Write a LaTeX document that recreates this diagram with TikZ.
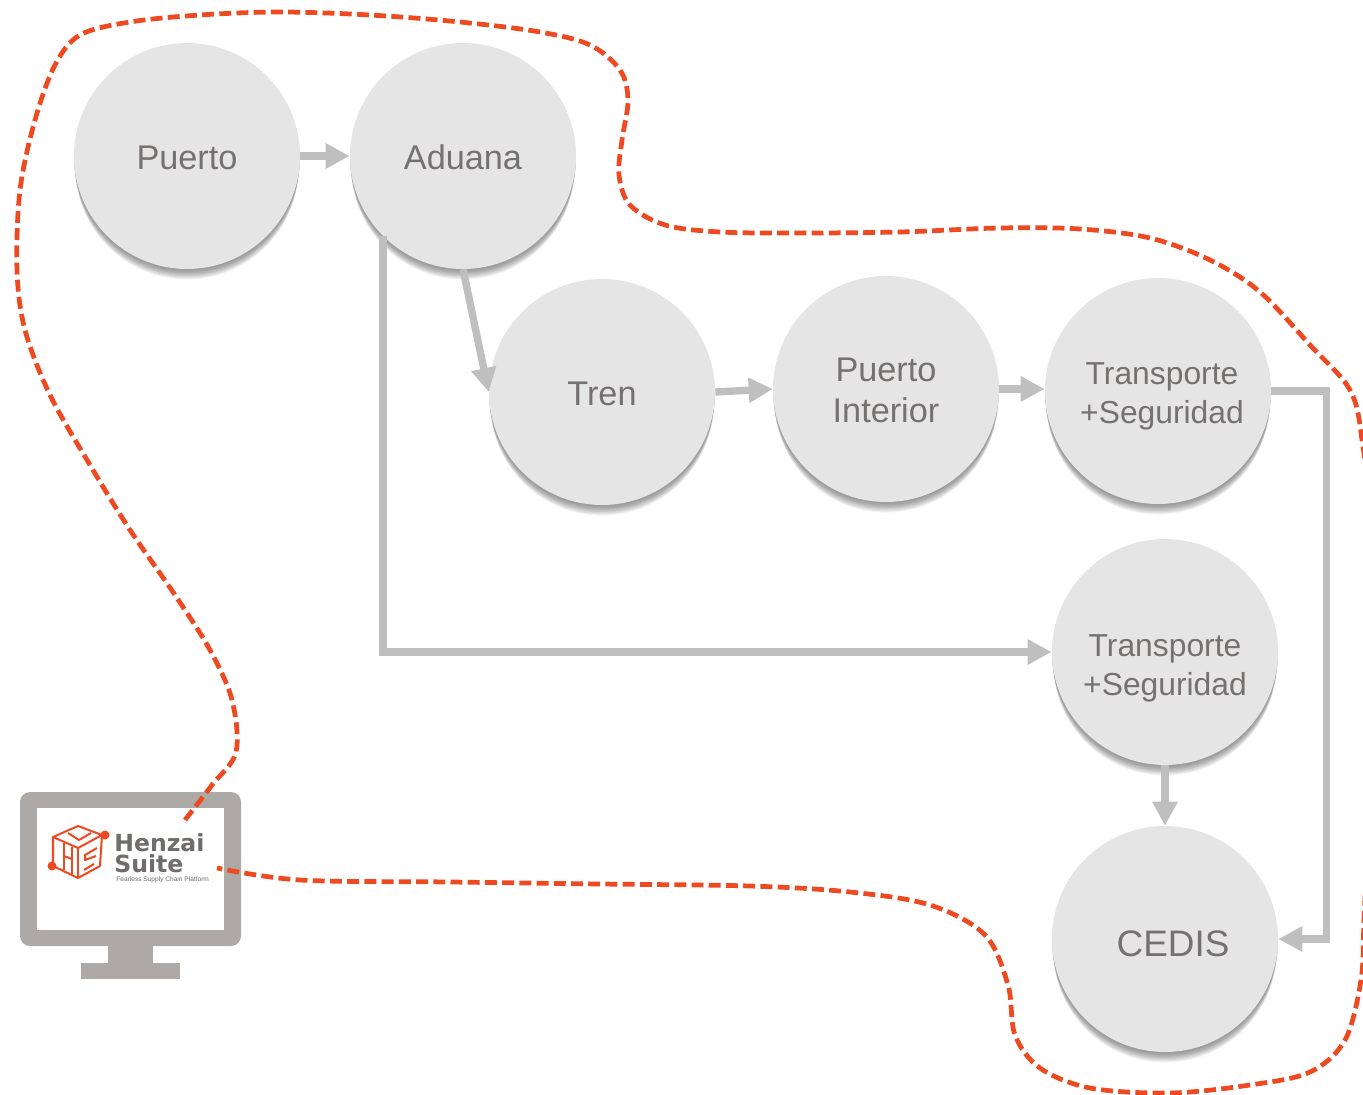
\documentclass[tikz,border=0pt]{standalone}
\usepackage{fontspec}
\setmainfont{Liberation Sans}
\newfontfamily\logofont{DejaVu Sans}
\usetikzlibrary{arrows.meta,shadows}
\definecolor{stationfill}{HTML}{E5E5E5}
\definecolor{stationtext}{HTML}{767171}
\definecolor{flowgray}{HTML}{BFBFBF}
\definecolor{routeorange}{HTML}{EE4A22}
\definecolor{monitorgray}{HTML}{ADA9A7}
\definecolor{logogray}{HTML}{6F6C6B}
\newcommand{\lowered}[1]{\rule{0pt}{#1}}
\tikzset{
  softlayer/.style n args={2}{drop shadow={shadow xshift=0cm,shadow yshift=#1,shadow scale=#2,opacity=0.038,fill=black}},
  station/.style={circle,minimum size=4.52cm,inner sep=0pt,fill=stationfill,text=stationtext,
    align=center,font=\fontsize{19.5}{23.6}\selectfont,
    softlayer={-0.25cm}{0.985},softlayer={-0.23cm}{0.985},softlayer={-0.21cm}{0.99},
    softlayer={-0.19cm}{0.99},softlayer={-0.17cm}{0.99},softlayer={-0.15cm}{0.995},
    softlayer={-0.13cm}{0.995},softlayer={-0.11cm}{0.995},softlayer={-0.09cm}{1},
    softlayer={-0.07cm}{1},softlayer={-0.05cm}{1},softlayer={-0.03cm}{1}},
  flow/.style={draw=flowgray,line width=4.2pt,-{Triangle[length=0.48cm,width=0.48cm,fill=flowgray]}},
  route/.style={draw=routeorange,line width=2.7pt,dash pattern=on 6.8pt off 3pt},
  logoline/.style={draw=routeorange,line width=1.15pt,line join=round}
}
\begin{document}
\begin{tikzpicture}[x=0.02cm,y=-0.02cm]
\useasboundingbox (0,0) rectangle (1363,1095);

\node[station] (puerto) at (187,156) {\lowered{15.2pt}Puerto};
\node[station] (aduana) at (463,156) {\lowered{15.2pt}Aduana};
\node[station] (tren) at (602,392) {\lowered{15.2pt}Tren};
\node[station] (interior) at (886,389) {\lowered{15.2pt}Puerto\\Interior};
\node[station,font=\fontsize{18.1}{22.4}\selectfont] (transA) at (1158,391) {\lowered{18.5pt}\hspace*{0.16cm}Transporte\\\hspace*{0.16cm}+Seguridad};
\node[station,font=\fontsize{18.1}{22.1}\selectfont] (transB) at (1165,652) {\lowered{31pt}Transporte\\+Seguridad};
\node[station,font=\fontsize{21}{25}\selectfont] (cedis) at (1165,939) {\lowered{20pt}\hspace*{0.32cm}CEDIS};

\draw[flow] (puerto.east) -- (aduana.west);
\draw[flow] (aduana.south) -- (tren.west);
\draw[flow] (tren.east) -- (interior.west);
\draw[flow] (interior.east) -- (interior.east -| transA.west);
\draw[flow] (transA.east) -- ++(55,0) |- (cedis.east);
\draw[flow] (aduana.south west) |- (transB.west);
\draw[flow] (transB.south) -- (cedis.north);

\fill[monitorgray,rounded corners=0.2cm] (20,792) rectangle (241,946);
\fill[white] (37,808) rectangle (224,930);
\fill[monitorgray] (108,946) rectangle (153,963);
\fill[monitorgray] (81,963) rectangle (180,979);

\draw[logoline] (53,837) -- (78,826) -- (102,835) -- (78,848) -- cycle;
\draw[logoline] (53,837) -- (53,866) -- (78,878) -- (100,866) -- (102,835);
\draw[logoline] (78,848) -- (78,878);
\draw[logoline] (68,833) -- (79,840) -- (91,833);
\draw[logoline] (64,843) -- (64,870);
\draw[logoline] (72,847) -- (72,874);
\draw[logoline] (64,856) -- (72,859);
\draw[logoline] (97,848) -- (85,855) -- (85,860) -- (96,856);
\draw[logoline] (94,864) -- (84,870);
\fill[routeorange] (105,835) circle (4.5);
\fill[routeorange] (52,866) circle (4.5);
\node[anchor=west,inner sep=0pt,text=logogray,font=\logofont\bfseries\fontsize{13.4}{16}\selectfont] (henzai) at (114,843) {Henzai};
\node[anchor=west,inner sep=0pt,text=logogray,font=\logofont\bfseries\fontsize{13.4}{16}\selectfont] (suite) at (114,864) {Suite};
\node[anchor=west,inner sep=0pt,text=logogray,font=\fontsize{3.75}{5}\selectfont] (tagline) at (116,880) {Fearless Supply Chain Platform};

\draw[route] plot[smooth,tension=0.55] coordinates {(185,820) (212,785) (236,752) (232,700) (210,650) (175,595) (130,530) (90,465) (50,395) (25,330) (17,270) (20,190) (35,120) (55,65) (80,35) (130,22) (200,15) (280,12) (370,15) (460,22) (540,32) (590,45) (620,70) (628,100) (622,140) (619,175) (630,205) (665,225) (720,232) (800,233) (900,232) (1000,228) (1080,229) (1150,238) (1210,260) (1260,292) (1310,345) (1350,390) (1362,440) (1368,520) (1368,800) (1364,920) (1361,980) (1345,1040) (1310,1072) (1250,1085) (1170,1093) (1090,1088) (1040,1068) (1015,1035) (1008,985) (985,935) (930,905) (850,892) (750,886) (600,884) (450,882) (300,880) (217,868)};
\end{tikzpicture}
\end{document}
